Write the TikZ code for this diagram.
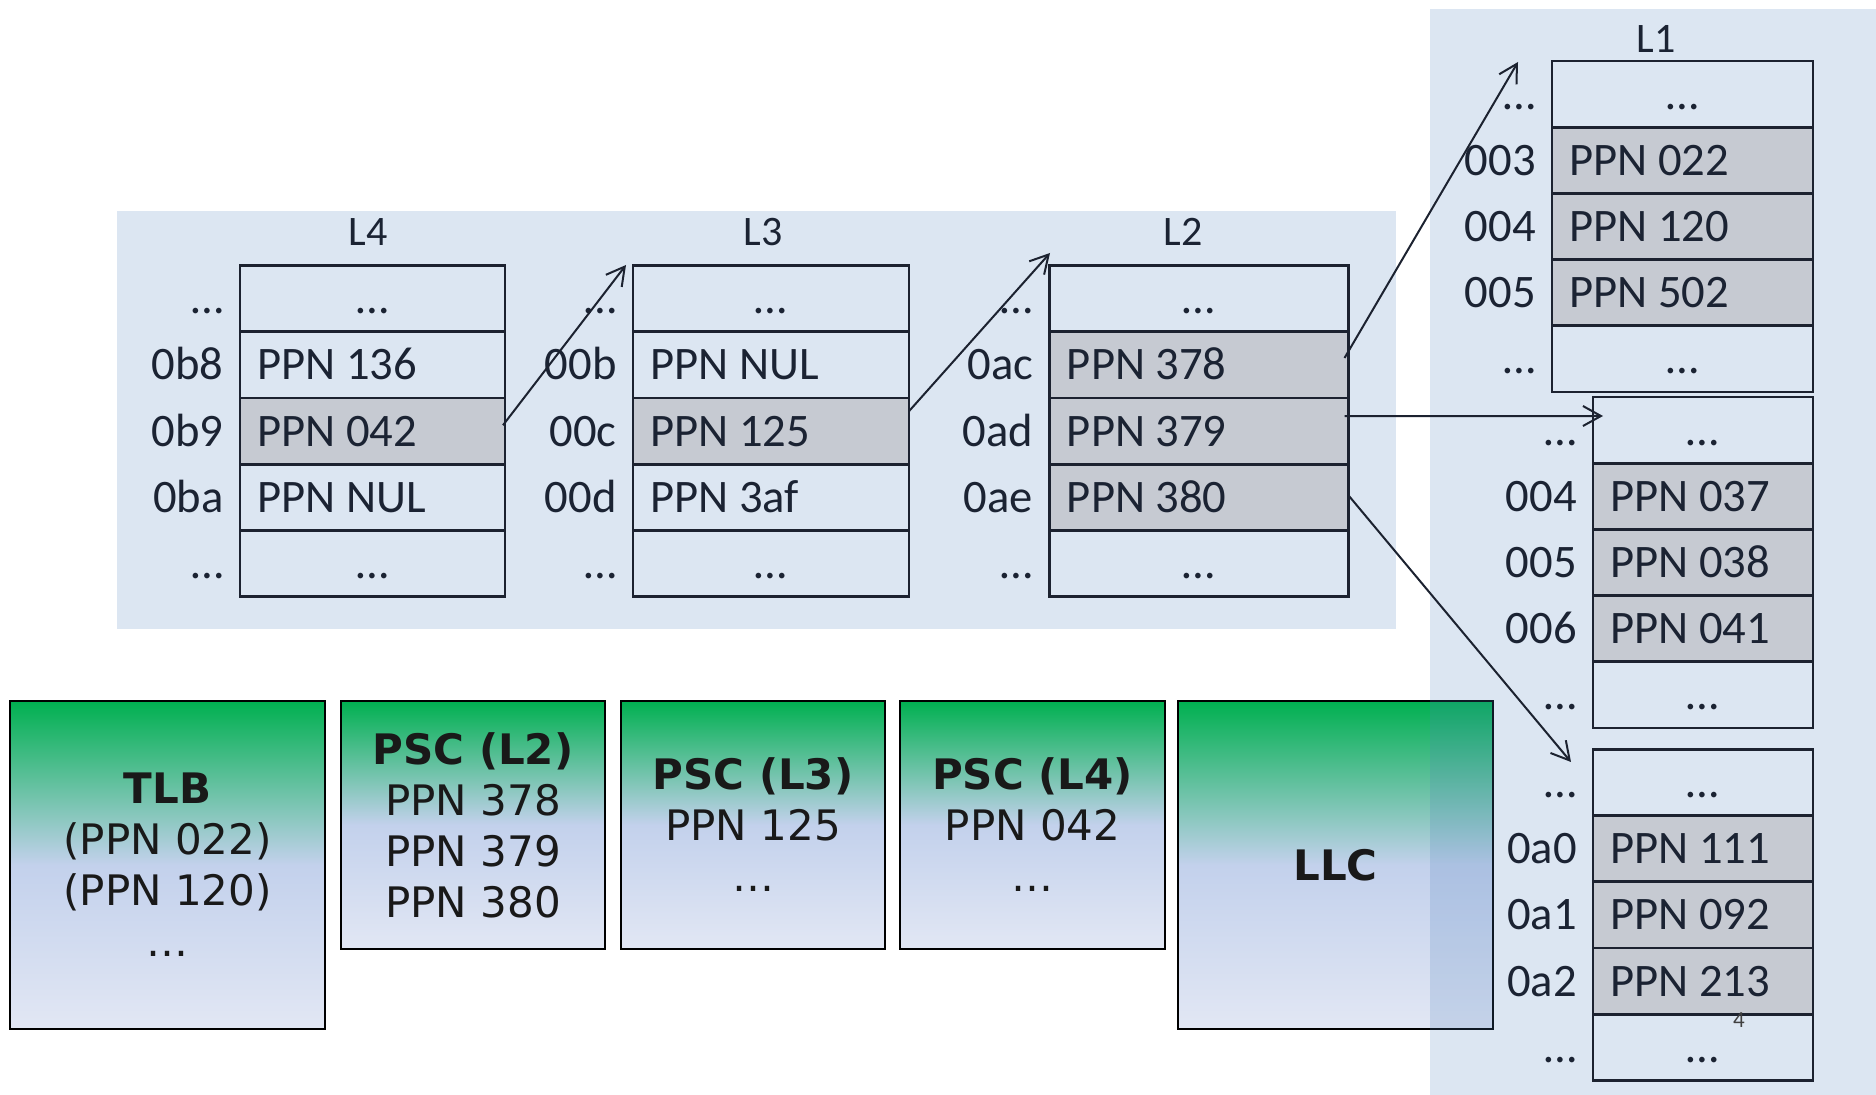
\documentclass[tikz,border=0pt]{standalone}
\usepackage{fontspec}
\setmainfont{Carlito}
\newfontfamily\boxfont{DejaVu Sans}
\usetikzlibrary{arrows.meta}

\definecolor{panelblue}{HTML}{4F81BD}
\definecolor{rowgray}{HTML}{C6CAD2}
\definecolor{rule}{HTML}{1C2230}
\definecolor{ink}{HTML}{1B2333}
\definecolor{cgreen}{HTML}{00B050}
\definecolor{cmid}{HTML}{C3D1EC}
\definecolor{cbot}{HTML}{E2E7F4}

\tikzset{
  panel/.style={fill=panelblue, fill opacity=0.2, draw=none},
  whiterow/.style={draw=rule, line width=1.4pt, inner sep=0pt, outer sep=0pt, minimum height=33.1pt},
  grayrow/.style={whiterow, fill=rowgray},
  celltext/.style={text=ink, inner sep=0pt, font=\fontsize{23.3}{28}\selectfont},
  idxtext/.style={celltext},
  titletext/.style={text=ink, inner sep=0pt, font=\fontsize{21}{25}\selectfont},
  ptr/.style={draw=rule, line width=1pt, -{Straight Barb[length=9pt,width=10pt]}},
  cachebox/.style={draw=black, line width=1.25pt, top color=cgreen, bottom color=cbot,
    middle color=cmid, align=center, inner sep=0pt, outer sep=0pt, text=black!90,
    anchor=north west, font=\boxfont\fontsize{21}{25.5}\selectfont},
}

% one page-table level: #1 name, #2 left, #3 top, #4 width, #5 the three middle rows
\newcommand\pagetable[5]{%
  \foreach \i/\ix/\tx/\rs in {1/…/…/whiterow,#5,5/…/…/whiterow}{%
    \node[\rs, minimum width=#4*0.5pt, anchor=north west] (#1-\i) at (#2,{#3+(\i-1)*66.2}) {};
    \node[idxtext, anchor=base east] (#1-\i-idx) at ([xshift=-8pt,yshift=-7.5pt]#1-\i.west) {\ix};
    \ifnum\i=1
      \node[celltext, anchor=base] (#1-\i-txt) at ([yshift=-7.5pt]#1-\i.center) {\tx};
    \else\ifnum\i=5
      \node[celltext, anchor=base] (#1-\i-txt) at ([yshift=-7.5pt]#1-\i.center) {\tx};
    \else
      \node[celltext, anchor=base west] (#1-\i-txt) at ([xshift=8.5pt,yshift=-7.5pt]#1-\i.west) {\tx};
    \fi\fi
  }%
}

\begin{document}
\begin{tikzpicture}[x=0.5pt, y=-0.5pt]
\useasboundingbox (0,0) rectangle (1876,1095);

% walk through the upper levels
\fill[panel] (117,211) rectangle (1396,629);

\node[titletext, anchor=base] (L4-title) at (368,246) {L4};
\node[titletext, anchor=base] (L3-title) at (763,246) {L3};
\node[titletext, anchor=base] (L2-title) at (1183,246) {L2};

\pagetable{L4}{240}{265.7}{265}{2/0b8/PPN 136/whiterow, 3/0b9/PPN 042/grayrow, 4/0ba/PPN NUL/whiterow}
\pagetable{L3}{633}{265.7}{276}{2/00b/PPN NUL/whiterow, 3/00c/PPN 125/grayrow, 4/00d/PPN 3af/whiterow}
\pagetable{L2}{1049.5}{265.7}{299}{2/0ac/PPN 378/grayrow, 3/0ad/PPN 379/grayrow, 4/0ae/PPN 380/grayrow}

% translation caches
\node[cachebox, minimum width=315*0.5pt, minimum height=328*0.5pt] (tlb) at (10,701)
  {\textbf{TLB}\\(PPN 022)\\(PPN 120)\\…};
\node[cachebox, minimum width=264*0.5pt, minimum height=248*0.5pt] (pscl2) at (341,701)
  {\textbf{PSC (L2)}\\PPN 378\\PPN 379\\PPN 380};
\node[cachebox, minimum width=264*0.5pt, minimum height=248*0.5pt] (pscl3) at (621,701)
  {\textbf{PSC (L3)}\\PPN 125\\…};
\node[cachebox, minimum width=265*0.5pt, minimum height=248*0.5pt] (pscl4) at (900,701)
  {\textbf{PSC (L4)}\\PPN 042\\…};
\node[cachebox, minimum width=315*0.5pt, minimum height=328*0.5pt] (llc) at (1178,701)
  {\textbf{LLC}};

% last level tables
\fill[panel] (1430,9) rectangle (1876,1095);

\node[titletext, anchor=base] (L1-title) at (1656,53) {L1};

\pagetable{L1}{1552}{61}{261}{2/003/PPN 022/grayrow, 3/004/PPN 120/grayrow, 4/005/PPN 502/grayrow}
\pagetable{L1b}{1593}{397}{220}{2/004/PPN 037/grayrow, 3/005/PPN 038/grayrow, 4/006/PPN 041/grayrow}
\pagetable{L1c}{1593}{749.5}{220}{2/0a0/PPN 111/grayrow, 3/0a1/PPN 092/grayrow, 4/0a2/PPN 213/grayrow}

% pointers between levels
\coordinate (t1) at (626,265);
\coordinate (t2) at (1050,253);
\coordinate (t3) at (1518,62);
\coordinate (t4) at (1603,416);
\coordinate (t5) at (1571,762);

\draw[ptr] ([xshift=-1pt,yshift=3pt]L4-3.east) -- (t1);
\draw[ptr] ([yshift=10pt]L3-3.east) -- (t2);
\draw[ptr] ([xshift=-2pt,yshift=3.5pt]L2-2.east) -- (t3);
\draw[ptr] ([xshift=-2pt,yshift=7.5pt]L2-3.east) -- (t4);
\draw[ptr] ([yshift=1pt]L2-4.east) -- (t5);

\node[inner sep=0pt, anchor=base, text=black!75, font=\fontsize{11.5}{12}\selectfont] (pgnum) at (1739,1028) {4};
\end{tikzpicture}
\end{document}
